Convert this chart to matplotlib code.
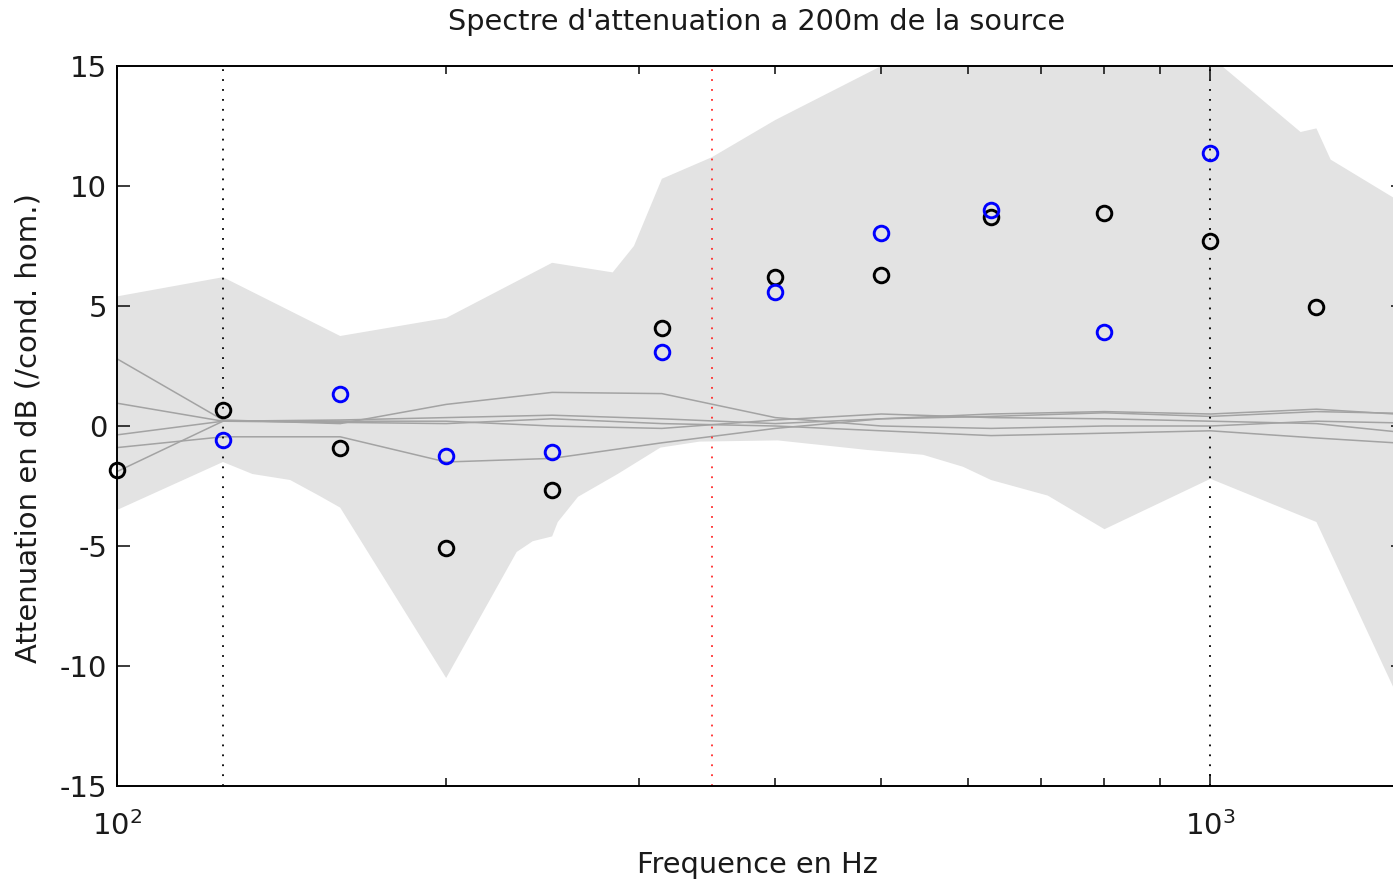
import numpy as np
import matplotlib
matplotlib.use('Agg')
import matplotlib.pyplot as plt
from matplotlib.ticker import LogLocator, NullFormatter

plt.rcParams['font.family'] = ['DejaVu Sans']
plt.rcParams['axes.unicode_minus'] = False

# Third-octave band centres (Hz)
freqs = [100, 125, 160, 200, 250, 315, 400, 500, 630, 800, 1000, 1250]

# Measured attenuation, black series (dB)
att_black = [-1.85, 0.67, -0.92, -5.08, -2.67, 4.1, 6.2, 6.28, 8.7, 8.87, 7.7, 4.95]

# Measured attenuation, blue series (dB), no value at 100 and 1250 Hz
freqs_blue = [125, 160, 200, 250, 315, 400, 500, 630, 800, 1000]
att_blue = [-0.58, 1.33, -1.25, -1.08, 3.08, 5.58, 8.04, 9.0, 3.92, 11.37]

# Envelope of the simulated spectra (upper / lower bounds)
env_hi_freq = [100, 125, 160, 200, 250, 284, 297, 315, 350, 400, 500, 630,
               800, 1000, 1209, 1250, 1288, 1600]
env_hi = [5.4, 6.2, 3.75, 4.5, 6.8, 6.4, 7.5, 10.3, 11.2, 12.75, 15.0, 17.0,
          17.0, 15.4, 12.25, 12.4, 11.1, 8.5]
env_lo_freq = [100, 125, 133, 144, 153, 160, 200, 232, 240, 250, 253, 264,
               287, 314, 341, 402, 486, 546, 594, 630, 710, 800, 1000, 1250, 1600]
env_lo = [-3.5, -1.5, -2.0, -2.25, -2.9, -3.4, -10.5, -5.25, -4.8, -4.6, -4.0,
          -2.95, -2.0, -0.9, -0.65, -0.6, -1.0, -1.2, -1.7, -2.25, -2.9, -4.3,
          -2.2, -4.0, -14.5]

# A few individual simulated spectra drawn darker
line_freqs = [100, 125, 160, 200, 250, 315, 400, 500, 630, 800, 1000, 1250, 1600]
sim_a = [2.8, 0.25, 0.1, 0.9, 1.4, 1.35, 0.35, 0.0, -0.1, 0.0, 0.0, 0.2, 0.1]
sim_b = [0.95, 0.2, 0.25, 0.35, 0.45, 0.3, 0.1, 0.3, 0.4, 0.55, 0.4, 0.6, 0.5]
sim_c = [-0.37, 0.2, 0.2, 0.2, 0.0, -0.1, 0.25, 0.5, 0.35, 0.3, 0.2, 0.1, -0.4]
sim_d = [-0.9, -0.45, -0.45, -1.5, -1.35, -0.7, -0.1, 0.3, 0.5, 0.6, 0.5, 0.7, 0.4]
sim_e = [-1.9, 0.2, 0.15, 0.1, 0.3, 0.1, 0.0, -0.2, -0.4, -0.3, -0.2, -0.5, -0.8]

ref_lines = [125, 1000]
cut_freq = 350

fig = plt.figure(figsize=(13.93, 8.82), dpi=100)
ax = fig.add_axes([117 / 1393, 1 - 786 / 882, (1403 - 117) / 1393, (786 - 66) / 882])
ax.set_xscale('log')

# grey band of simulated spectra
poly_x = list(env_hi_freq) + list(env_lo_freq[::-1])
poly_y = list(env_hi) + list(env_lo[::-1])
ax.fill(poly_x, poly_y, color='#e3e3e3', lw=0, zorder=1)

for s in [sim_a, sim_b, sim_c, sim_d, sim_e]:
    ax.plot(line_freqs, s, color='#a3a3a3', lw=1.1, zorder=2)

for f in ref_lines:
    ax.plot([f, f], [-15, 15], color='black', lw=1.3, dashes=(1, 4.5), zorder=3)
ax.plot([cut_freq, cut_freq], [-15, 15], color='#ff2a2a', lw=1.3, dashes=(1, 4.5), zorder=3)

ax.plot(freqs, att_black, 'o', mfc='none', mec='black', ms=10.5, mew=2.1,
        zorder=5, clip_on=False)
ax.plot(freqs_blue, att_blue, 'o', mfc='none', mec='#0000ff', ms=10.5, mew=2.1,
        zorder=5, clip_on=False)

ax.set_xlim(100, 1500)
ax.set_ylim(-15, 15)
ax.set_yticks([-15, -10, -5, 0, 5, 10, 15])
ax.xaxis.set_major_locator(LogLocator(base=10))
ax.xaxis.set_minor_locator(LogLocator(base=10, subs=np.arange(2, 10)))
ax.xaxis.set_minor_formatter(NullFormatter())

ax.tick_params(which='both', direction='in', top=True, right=True,
               labelsize=21, colors='#1a1a1a')
ax.tick_params(axis='y', pad=7)
ax.tick_params(axis='x', pad=18)
ax.tick_params(which='major', length=9, width=1.2)
ax.tick_params(which='minor', length=6, width=1.2)
for sp in ax.spines.values():
    sp.set_linewidth(1.4)
    sp.set_zorder(6)

ax_w = 1403 - 117
ax_h = 786 - 66
ax.set_title("Spectre d'attenuation a 200m de la source", fontsize=20.7,
             color='#1a1a1a', va='center', y=(786 - 22) / ax_h, pad=0)
ax.title.set_x((757 - 117) / ax_w)
ax.set_xlabel('Frequence en Hz', fontsize=20.7, color='#1a1a1a', va='center')
ax.xaxis.set_label_coords((757 - 117) / ax_w, (786 - 865) / ax_h)
ax.set_ylabel('Attenuation en dB (/cond. hom.)', fontsize=21, color='#1a1a1a',
              va='center')
ax.yaxis.set_label_coords((29 - 117) / ax_w, (786 - 428) / ax_h)

fig.savefig('out.png', dpi=100)
